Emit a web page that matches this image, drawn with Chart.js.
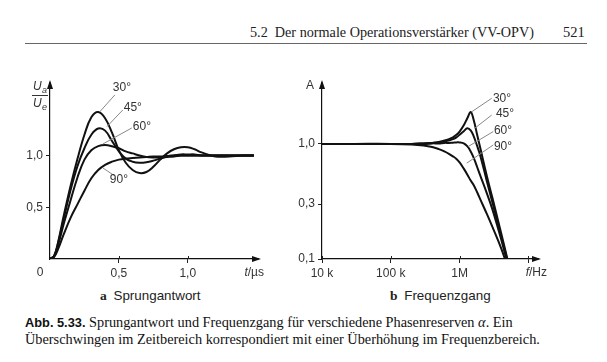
<!DOCTYPE html>
<html><head><meta charset="utf-8">
<script src="https://cdn.jsdelivr.net/npm/chart.js@4/dist/chart.umd.min.js"></script>
<style>
html,body{margin:0;padding:0;background:#fff;width:607px;height:362px;overflow:hidden;position:relative}
canvas{position:absolute}
.t{position:absolute;white-space:nowrap;color:#222}
.serif{font-family:"Liberation Serif","DejaVu Serif",serif}
.sans{font-family:"Liberation Sans",Arial,sans-serif}
</style></head><body>
<div class="t serif" style="left:250px;top:24px;font-size:14.2px">5.2&nbsp; Der normale Operationsverstärker (VV-OPV)</div>
<div class="t serif" style="left:563px;top:24px;font-size:14.5px">521</div>
<div style="position:absolute;left:25px;top:43px;width:562px;height:1px;background:#666"></div>
<canvas id="c1" width="290" height="215" style="left:0;top:70px"></canvas>
<canvas id="c2" width="290" height="215" style="left:290px;top:70px"></canvas>
<div class="t" style="left:100px;top:288px;font-size:13.4px"><b class="serif" style="font-size:13.5px">a</b>&nbsp; <span class="sans">Sprungantwort</span></div>
<div class="t" style="left:390px;top:288px;font-size:13.4px"><b class="serif" style="font-size:13.5px">b</b>&nbsp; <span class="sans">Frequenzgang</span></div>
<div class="t serif" style="left:25px;top:314px;font-size:14.3px;line-height:16px;color:#111"><b class="sans" style="font-size:12.8px">Abb. 5.33.</b> Sprungantwort und Frequenzgang für verschiedene Phasenreserven <i>α</i>. Ein<br>Überschwingen im Zeitbereich korrespondiert mit einer Überhöhung im Frequenzbereich.</div>
<script>
// ---- data: step response (t in µs) ----
const tStep   = [0, 0.03, 0.06, 0.1, 0.15, 0.2, 0.25, 0.3, 0.35, 0.4, 0.45, 0.5, 0.55, 0.6, 0.65, 0.7, 0.75, 0.8, 0.85, 0.9, 0.95, 1.0, 1.05, 1.1, 1.2, 1.3, 1.4, 1.48];
const step30  = [0, 0.03, 0.17, 0.42, 0.71, 0.97, 1.2, 1.37, 1.42, 1.36, 1.22, 1.05, 0.93, 0.86, 0.83, 0.84, 0.89, 0.96, 1.02, 1.06, 1.08, 1.08, 1.06, 1.03, 0.99, 0.99, 1.0, 1.0];
const step45  = [0, 0.03, 0.16, 0.39, 0.67, 0.9, 1.07, 1.2, 1.26, 1.24, 1.14, 1.04, 0.97, 0.94, 0.93, 0.935, 0.95, 0.97, 0.99, 1.0, 1.01, 1.01, 1.01, 1.0, 1.0, 1.0, 1.0, 1.0];
const step60  = [0, 0.025, 0.14, 0.34, 0.57, 0.79, 0.96, 1.05, 1.09, 1.1, 1.09, 1.07, 1.04, 1.02, 1.0, 0.985, 0.98, 0.98, 0.985, 0.99, 1.0, 1.0, 1.0, 1.0, 1.0, 1.0, 1.0, 1.0];
const step90  = [0, 0.02, 0.1, 0.24, 0.4, 0.53, 0.66, 0.78, 0.86, 0.91, 0.94, 0.96, 0.97, 0.975, 0.98, 0.985, 0.99, 0.99, 0.995, 1.0, 1.0, 1.0, 1.0, 1.0, 1.0, 1.0, 1.0, 1.0];
const stepXTicks = [0.5, 1.0];
const stepYTicks = [0.5, 1.0];

// ---- data: frequency response (f in Hz) ----
const freq   = [1e4, 3e4, 1e5, 2e5, 3e5, 4e5, 5e5, 6e5, 7e5, 8e5, 9e5, 1e6, 1.15e6, 1.3e6, 1.45e6, 1.6e6, 1.8e6, 2e6, 2.5e6, 3e6, 4e6, 5e6];
const amp30  = [1, 1, 1, 1.0, 1.01, 1.02, 1.04, 1.07, 1.1, 1.14, 1.2, 1.28, 1.45, 1.68, 1.89, 1.62, 1.2, 0.92, 0.52, 0.34, 0.17, 0.098];
const amp45  = [1, 1, 1, 1.0, 1.01, 1.02, 1.03, 1.05, 1.07, 1.1, 1.14, 1.2, 1.29, 1.37, 1.31, 1.17, 0.96, 0.79, 0.47, 0.31, 0.16, 0.095];
const amp60  = [1, 1, 1, 1.0, 1.0, 1.01, 1.01, 1.02, 1.02, 1.025, 1.03, 1.03, 1.01, 0.95, 0.86, 0.76, 0.63, 0.53, 0.37, 0.27, 0.15, 0.09];
const amp90  = [1, 1, 1, 0.99, 0.97, 0.94, 0.9, 0.86, 0.82, 0.78, 0.74, 0.69, 0.61, 0.54, 0.48, 0.44, 0.38, 0.33, 0.245, 0.19, 0.125, 0.085];
const freqXTicks = [1e4, 1e5, 1e6, 1e7];
const freqXLabels = ['10 k', '100 k', '1M', ''];
const freqYTicks = [0.1, 0.3, 1.0];

const curveNames = ['30°', '45°', '60°', '90°'];

// label anchors (data coordinates): text centre, leader start, leader end
const stepLabels = [
  {text:'30°', tx:0.522, ty:1.652, x1:0.362, y1:1.423, x2:0.471, y2:1.585},
  {text:'45°', tx:0.601, ty:1.459, x1:0.413, y1:1.278, x2:0.529, y2:1.44},
  {text:'60°', tx:0.667, ty:1.275, x1:0.384, y1:1.111, x2:0.594, y2:1.266},
  {text:'90°', tx:0.5,   ty:0.763, x1:0.384, y1:0.879, x2:0.471, y2:0.802}
];
const freqLabels = [
  {text:'30°', tx:4.13e6, ty:2.45, x1:1.5e6, y1:1.9, x2:2.93e6, y2:2.49},
  {text:'45°', tx:4.57e6, ty:1.82, x1:1.67e6, y1:1.37, x2:2.93e6, y2:1.78},
  {text:'60°', tx:4.28e6, ty:1.30, x1:1.34e6, y1:0.95, x2:3.09e6, y2:1.28},
  {text:'90°', tx:4.28e6, ty:0.94, x1:1.27e6, y1:0.68, x2:3.09e6, y2:0.98}
];

const SANS = '"Liberation Sans", Arial, sans-serif';
const TXT = '#333';
const fmt = v => Number(v).toFixed(1).replace('.', ',');

function mkDatasets(xs, series) {
  return series.map((s, k) => ({
    label: curveNames[k],
    data: xs.map((x, i) => ({x: x, y: s[i]})),
    borderColor: '#111', borderWidth: 2, pointRadius: 0, tension: 0.4, fill: false
  }));
}

function axisPlugin(opts) {
  return {
    id: 'deco',
    afterDraw(chart) {
      const c = chart.ctx, a = chart.chartArea, xs = chart.scales.x, ys = chart.scales.y;
      c.save();
      c.fillStyle = '#111';
      c.beginPath(); c.moveTo(a.left, a.top - 3); c.lineTo(a.left - 3, a.top + 6); c.lineTo(a.left + 3, a.top + 6); c.closePath(); c.fill();
      c.beginPath(); c.moveTo(a.right + 3, a.bottom); c.lineTo(a.right - 6, a.bottom - 3); c.lineTo(a.right - 6, a.bottom + 3); c.closePath(); c.fill();
      c.strokeStyle = '#222'; c.lineWidth = 1;
      opts.xTicks.forEach(v => { const p = Math.round(xs.getPixelForValue(v)) + 0.5; c.beginPath(); c.moveTo(p, a.bottom); c.lineTo(p, a.bottom - 3); c.stroke(); });
      c.strokeStyle = '#888'; c.lineWidth = 1;
      c.fillStyle = TXT; c.font = '12px ' + SANS; c.textAlign = 'center'; c.textBaseline = 'middle';
      opts.labels.forEach(l => {
        c.beginPath(); c.moveTo(xs.getPixelForValue(l.x1), ys.getPixelForValue(l.y1)); c.lineTo(xs.getPixelForValue(l.x2), ys.getPixelForValue(l.y2)); c.stroke();
        c.fillText(l.text, xs.getPixelForValue(l.tx), ys.getPixelForValue(l.ty));
      });
      opts.extra(c, a);
      c.restore();
    }
  };
}

function axisLabel(c, x, y, italicPart, rest) {
  c.textAlign = 'left'; c.textBaseline = 'middle';
  c.font = 'italic 12px ' + SANS;
  const w1 = c.measureText(italicPart).width;
  c.font = '12px ' + SANS;
  const w2 = c.measureText(rest).width;
  const x0 = x - w1 - w2;
  c.font = 'italic 12px ' + SANS; c.fillText(italicPart, x0, y);
  c.font = '12px ' + SANS; c.fillText(rest, x0 + w1, y);
}

function scaleCommon(ticksArr, labelFn, fitKey, fitVal, extra) {
  return Object.assign({
    afterBuildTicks: s => { s.ticks = ticksArr.map(v => ({value: v})); },
    afterFit: s => { s[fitKey] = fitVal; },
    ticks: {callback: labelFn, color: TXT, font: {family: SANS, size: 12}, autoSkip: false, maxRotation: 0, padding: 3},
    grid: {display: true, drawOnChartArea: false, tickLength: 4, color: '#222'},
    border: {display: true, color: '#111', width: 1.2}
  }, extra);
}

new Chart(document.getElementById('c1'), {
  type: 'line',
  data: {datasets: mkDatasets(tStep, [step30, step45, step60, step90])},
  options: {
    responsive: false, animation: false,
    layout: {padding: {top: 13, right: 32, left: 0, bottom: 0}},
    plugins: {legend: {display: false}, tooltip: {enabled: false}},
    scales: {
      x: scaleCommon(stepXTicks, v => fmt(v), 'height', 26, {type: 'linear', min: 0, max: 1.51}),
      y: scaleCommon(stepYTicks, v => fmt(v), 'width', 50, {type: 'linear', min: 0, max: 1.7})
    }
  },
  plugins: [axisPlugin({
    xTicks: stepXTicks, labels: stepLabels,
    extra: (c, a) => {
      c.fillStyle = TXT; c.font = '12px ' + SANS; c.textAlign = 'center'; c.textBaseline = 'middle';
      c.fillText('0', a.left - 10, a.bottom + 14);
      axisLabel(c, a.right + 6, a.bottom + 14, 't', '/µs');
      c.textAlign = 'left'; c.textBaseline = 'alphabetic';
      c.font = 'italic 12px ' + SANS; c.fillText('U', 33, 20);
      c.font = 'italic 9px ' + SANS; c.fillText('a', 42, 23);
      c.font = 'italic 12px ' + SANS; c.fillText('U', 33, 37);
      c.font = 'italic 9px ' + SANS; c.fillText('e', 42, 40);
      c.strokeStyle = '#333'; c.lineWidth = 1;
      c.beginPath(); c.moveTo(32, 25.5); c.lineTo(48, 25.5); c.stroke();
    }
  })]
});

new Chart(document.getElementById('c2'), {
  type: 'line',
  data: {datasets: mkDatasets(freq, [amp30, amp45, amp60, amp90])},
  options: {
    responsive: false, animation: false,
    layout: {padding: {top: 13, right: 42, left: 0, bottom: 0}},
    plugins: {legend: {display: false}, tooltip: {enabled: false}},
    scales: {
      x: scaleCommon(freqXTicks, (v, i) => freqXLabels[i], 'height', 26, {type: 'logarithmic', min: 1e4, max: 1.38e7}),
      y: scaleCommon(freqYTicks, v => fmt(v), 'width', 32, {type: 'logarithmic', min: 0.1, max: 3.38})
    }
  },
  plugins: [axisPlugin({
    xTicks: freqXTicks, labels: freqLabels,
    extra: (c, a) => {
      c.fillStyle = TXT;
      axisLabel(c, a.right + 9, a.bottom + 14, 'f', '/Hz');
      c.font = '12px ' + SANS; c.textAlign = 'center'; c.textBaseline = 'middle';
      c.fillText('A', a.left - 12, a.top + 3);
    }
  })]
});
</script>
</body></html>
